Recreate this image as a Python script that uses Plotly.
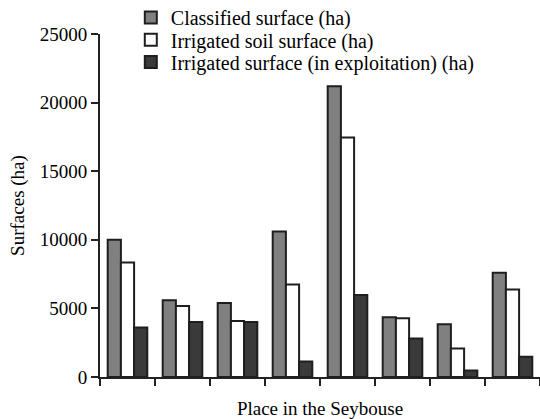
import plotly.graph_objects as go

places = ["P1", "P2", "P3", "P4", "P5", "P6", "P7", "P8"]
classified = [10000, 5600, 5400, 10600, 21200, 4350, 3850, 7600]
irrigated_soil = [8350, 5180, 4080, 6750, 17450, 4280, 2080, 6380]
irrigated_exploit = [3600, 4000, 4000, 1130, 5980, 2800, 470, 1480]

y_tickvals = [0, 5000, 10000, 15000, 20000, 25000]
y_ticktext = ["0", "5000", "10000", "15000", "20000", "25000"]

series_names = ["Classified surface (ha)", "Irrigated soil surface (ha)",
                "Irrigated surface (in exploitation) (ha)"]
series_values = [classified, irrigated_soil, irrigated_exploit]
series_colors = ["#808080", "#ffffff", "#3a3a3a"]
legend_ids = ["legend", "legend2", "legend3"]
legend_y = [1.105, 1.040, 0.975]

font_family = "Liberation Serif, Times New Roman, serif"

fig = go.Figure()
for name, vals, col, lid in zip(series_names, series_values, series_colors, legend_ids):
    fig.add_trace(go.Bar(
        x=places, y=vals, name=name, legend=lid,
        marker=dict(color=col, line=dict(color="#1e1e1e", width=2)),
    ))

legend_common = dict(x=0.07, xanchor="left", yanchor="top",
                     font=dict(size=20, family=font_family, color="#000"),
                     bgcolor="rgba(0,0,0,0)")
fig.update_layout(
    width=540, height=419,
    margin=dict(l=100, r=0, t=34, b=42, autoexpand=False),
    barmode="group", bargap=0.28, bargroupgap=0,
    plot_bgcolor="white", paper_bgcolor="white",
    font=dict(family=font_family, size=19, color="#000"),
    showlegend=True,
    legend=dict(y=legend_y[0], **legend_common),
    legend2=dict(y=legend_y[1], **legend_common),
    legend3=dict(y=legend_y[2], **legend_common),
)
fig.update_yaxes(
    range=[0, 25000], tickvals=y_tickvals, ticktext=y_ticktext,
    automargin=False,
    showgrid=False, zeroline=False, showline=True, linecolor="#222", linewidth=2,
    ticks="outside", ticklen=7, tickwidth=2, tickcolor="#222",
    tickfont=dict(size=19, family=font_family),
    title=dict(text="Surfaces (ha)", font=dict(size=19, family=font_family), standoff=10),
)
fig.update_xaxes(
    automargin=False,
    showticklabels=False, showgrid=False, showline=True, linecolor="#222", linewidth=2,
    ticks="outside", ticklen=7, tickwidth=2, tickcolor="#222",
    tickson="boundaries",
    title=dict(text="Place in the Seybouse", font=dict(size=19, family=font_family), standoff=24),
)

fig.write_html("out.html", config={"displayModeBar": False},
               post_script="document.body.style.margin='0';")
